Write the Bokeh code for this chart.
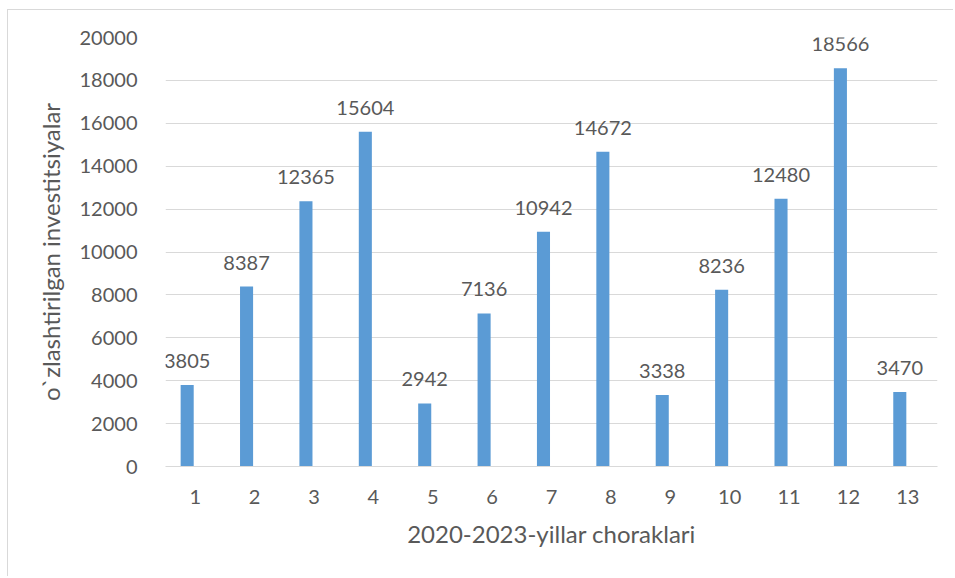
from bokeh.plotting import figure
from bokeh.models import ColumnDataSource, Range1d, FactorRange
from bokeh.transform import dodge
from bokeh.embed import file_html
from bokeh.resources import INLINE
from bokeh.core.properties import value

quarters = [str(i) for i in range(1, 14)]
investments = [3805, 8387, 12365, 15604, 2942, 7136, 10942, 14672, 3338, 8236, 12480, 18566, 3470]
y_ticks = list(range(0, 20001, 2000))

src = ColumnDataSource(dict(x=quarters, y=investments, lbl=[str(v) for v in investments]))

FONT = "Lato"
GREY = "#595959"

p = figure(width=946, height=567, output_backend="svg", toolbar_location=None,
           x_range=FactorRange(*quarters, range_padding=0), y_range=Range1d(0, 20000),
           min_border_left=157, min_border_right=17, min_border_top=27, min_border_bottom=111)
p.margin = (9, 0, 0, 7)
p.styles = {"border-left": "1px solid #d9d9d9", "border-top": "1px solid #d9d9d9"}
p.outline_line_color = None
p.background_fill_color = "white"
p.border_fill_color = "white"

xpos = dodge("x", -0.135, range=p.x_range)
p.vbar(x=xpos, top="y", width=0.22, source=src, color="#5b9bd5", line_color=None)
p.text(x=xpos, y="y", text="lbl", source=src, text_align="center", text_baseline="bottom",
       y_offset=-17, text_font=value(FONT), text_font_size="20px", text_color=GREY)

p.yaxis.ticker = y_ticks
p.yaxis.axis_line_color = None
p.yaxis.major_tick_line_color = None
p.yaxis.minor_tick_line_color = None
p.yaxis.major_label_text_font = FONT
p.yaxis.major_label_text_font_size = "20px"
p.yaxis.major_label_text_color = GREY
p.yaxis.major_label_standoff = 22
p.yaxis.axis_label = "o`zlashtirilgan investitsiyalar"
p.yaxis.axis_label_text_font = FONT
p.yaxis.axis_label_text_font_style = "normal"
p.yaxis.axis_label_text_font_size = "24px"
p.yaxis.axis_label_text_color = GREY
p.yaxis.axis_label_standoff = 12

p.xaxis.axis_line_color = "#d9d9d9"
p.xaxis.axis_line_width = 1
p.xaxis.major_tick_line_color = None
p.xaxis.minor_tick_line_color = None
p.xaxis.major_label_text_font = FONT
p.xaxis.major_label_text_font_size = "20px"
p.xaxis.major_label_text_color = GREY
p.xaxis.major_label_standoff = 17
p.xaxis.axis_label = "2020-2023-yillar choraklari"
p.xaxis.axis_label_text_font = FONT
p.xaxis.axis_label_text_font_style = "normal"
p.xaxis.axis_label_text_font_size = "24px"
p.xaxis.axis_label_text_color = GREY
p.xaxis.axis_label_standoff = 12

p.xgrid.grid_line_color = None
p.ygrid.grid_line_color = "#d9d9d9"
p.ygrid.grid_line_width = 1

open("out.html", "w").write(file_html(p, INLINE))
